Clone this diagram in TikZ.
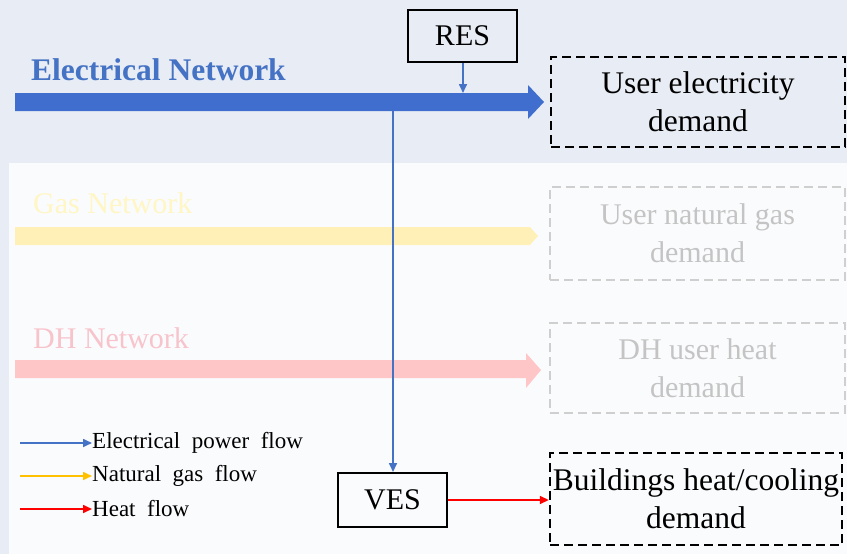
\documentclass[tikz,border=0pt]{standalone}
\usepackage{fontspec}
\setmainfont{Liberation Serif}
\usetikzlibrary{arrows.meta}
\definecolor{bgc}{HTML}{E8ECF4}
\definecolor{panel}{HTML}{FAFBFD}
\definecolor{eblue}{HTML}{4472C4}
\definecolor{barblue}{HTML}{3F6ECF}
\definecolor{gold}{HTML}{FFC000}
\definecolor{fadeyel}{HTML}{FFF0B8}
\definecolor{fadeyeltxt}{HTML}{FFF6C4}
\definecolor{fadepink}{HTML}{FFC6C8}
\definecolor{fadepinktxt}{HTML}{F8C4CC}
\definecolor{fadegrey}{HTML}{CFCFCF}
\definecolor{fadegreytxt}{HTML}{C4C4C4}
\tikzset{
  box/.style={draw=black, line width=2pt, fill=none, font=\fontsize{30}{36}\selectfont, inner sep=0pt},
  dbox/.style={draw=black, line width=2.4pt, dash pattern=on 9pt off 5pt, align=center, inner sep=0pt, font=\fontsize{31.5}{38}\selectfont},
  fbox/.style={draw=fadegrey, line width=1.4pt, dash pattern=on 9pt off 5pt, align=center, inner sep=0pt, text=fadegreytxt, font=\fontsize{30}{38}\selectfont},
  thin/.style={line width=1.6pt, -{Triangle[length=9pt,width=8pt]}},
  leg/.style={anchor=west, font=\fontsize{23}{26}\selectfont, inner sep=0pt},
}
\begin{document}
\begin{tikzpicture}[x=1pt,y=-1pt]
\useasboundingbox (0,0) rectangle (847,554);
\fill[bgc] (0,0) rectangle (847,554);
\fill[panel] (9,163) rectangle (847,554);

% faded gas network
\node[anchor=base west, inner sep=0pt, text=fadeyeltxt, font=\fontsize{30}{36}\selectfont] (gasT) at (33,213) {Gas Network};
\fill[fadeyel] (15,227) -- (530,227) -- (538,236) -- (530,245) -- (15,245) -- cycle;
% faded DH network
\node[anchor=base west, inner sep=0pt, text=fadepinktxt, font=\fontsize{30}{36}\selectfont] (dhT) at (33,348) {DH Network};
\fill[fadepink] (15,360) -- (526,360) -- (526,353) -- (541,370) -- (526,388) -- (526,378) -- (15,378) -- cycle;

\node[fbox, minimum width=295pt, minimum height=93pt] (gasD) at (697.5,233.5) {User natural gas\\demand};
\node[fbox, minimum width=295pt, minimum height=90pt] (dhD) at (697.5,368) {DH user heat\\demand};

% electrical network
\node[anchor=base west, inner sep=0pt, text=eblue, font=\bfseries\fontsize{31.5}{36}\selectfont] (elT) at (31,80) {Electrical Network};
\fill[barblue] (15,93) -- (528,93) -- (528,85) -- (544,102) -- (528,119) -- (528,111) -- (15,111) -- cycle;
\coordinate (barTop) at (463,93);
\coordinate (barBot) at (393,111);

\node[box, minimum width=109pt, minimum height=52pt] (res) at (462.5,36) {RES};
\node[dbox, minimum width=294pt, minimum height=90pt] (elD) at (698,102) {User electricity\\demand};

\node[box, minimum width=109pt, minimum height=54pt] (ves) at (392.5,500) {VES};
\node[dbox, minimum width=292pt, minimum height=92pt] (bD) at (696,499) {Buildings heat/cooling\\demand};

\draw[thin, eblue] (res.south -| barTop) -- (barTop);
\draw[thin, eblue] (barBot) -- (barBot |- ves.north);
\draw[thin, red] (ves.east) -- (ves.east -| bD.west);

% legend
\coordinate (l1) at (20,443);
\coordinate (l2) at (20,476);
\coordinate (l3) at (20,509);
\node[leg] (t1) at (92,443) {Electrical\ \ power\ \ flow};
\node[leg] (t2) at (92,476) {Natural\ \ gas\ \ flow};
\node[leg] (t3) at (92,509) {Heat\ \ flow};
\draw[thin, eblue] (l1) -- (t1.west);
\draw[thin, gold] (l2) -- (t2.west);
\draw[thin, red] (l3) -- (t3.west);
\end{tikzpicture}
\end{document}
